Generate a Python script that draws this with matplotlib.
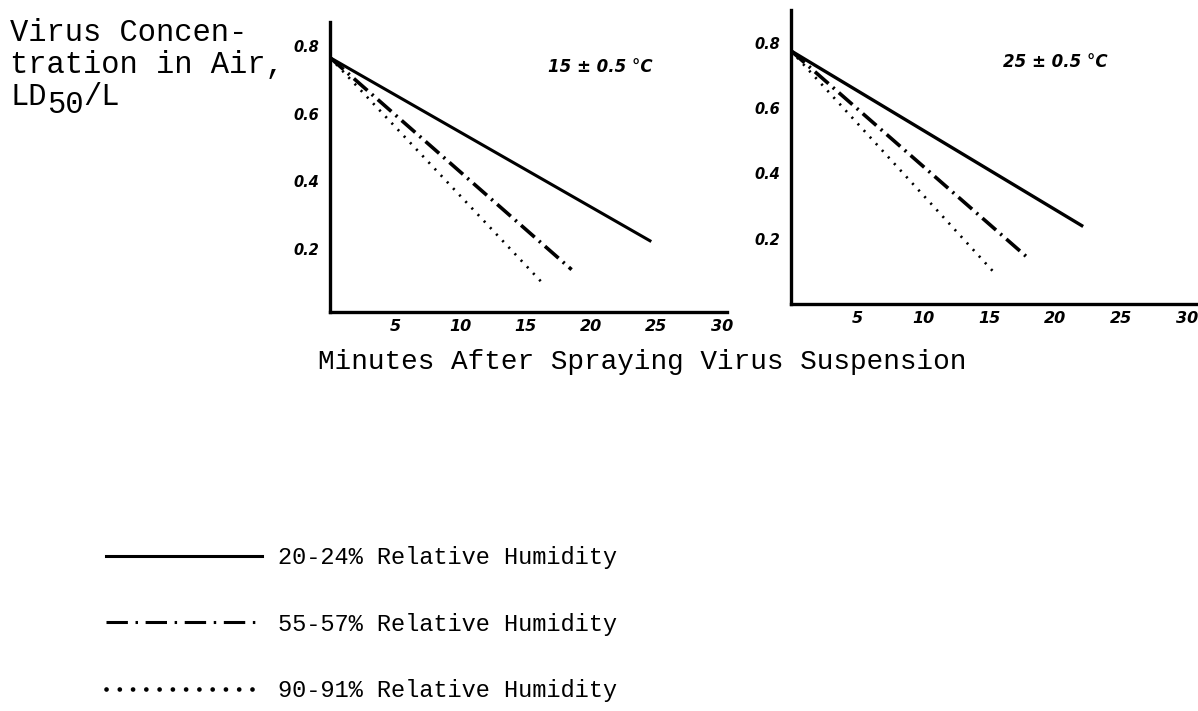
import matplotlib
matplotlib.use("Agg")
import matplotlib.pyplot as plt
from matplotlib.lines import Line2D

# (minutes, LD50/L)
left_solid_x = [0, 24.5]
left_solid_y = [0.765, 0.225]
left_dashdot_x = [0, 18.5]
left_dashdot_y = [0.765, 0.14]
left_dotted_x = [0, 16.4]
left_dotted_y = [0.765, 0.095]

right_solid_x = [0, 22.0]
right_solid_y = [0.775, 0.24]
right_dashdot_x = [0, 18.1]
right_dashdot_y = [0.775, 0.135]
right_dotted_x = [0, 15.4]
right_dotted_y = [0.775, 0.095]

xticks = [5, 10, 15, 20, 25, 30]
yticks = [0.2, 0.4, 0.6, 0.8]
temps = ["15 ± 0.5 °C", "25 ± 0.5 °C"]
labels = ["20-24% Relative Humidity", "55-57% Relative Humidity", "90-91% Relative Humidity"]

W, H = 1198, 711
fig = plt.figure(figsize=(W/100, H/100), dpi=100)

dashdot = (0, (5, 1.6, 0.6, 1.6))
dotted = (0, (0.8, 2.6))

def make_axes(rect, xmax, ymin, ymax):
    ax = fig.add_axes(rect)
    for side in ["top", "right"]:
        ax.spines[side].set_visible(False)
    for side in ["left", "bottom"]:
        ax.spines[side].set_linewidth(2.4)
    ax.set_xlim(0, xmax)
    ax.set_ylim(ymin, ymax)
    ax.set_xticks(xticks)
    ax.set_xticklabels([str(t) for t in xticks], fontsize=11.5, style="italic", weight="bold")
    ax.set_yticks(yticks)
    ax.set_yticklabels([str(t) for t in yticks], fontsize=10.5, style="italic", weight="bold")
    ax.tick_params(length=0)
    ax.tick_params(axis="x", pad=5)
    ax.tick_params(axis="y", pad=8)
    return ax

ax1 = make_axes([330/W, 1-312/H, 397/W, 290/H], 30.4, 0.015, 0.87)
ax1.plot(left_solid_x, left_solid_y, color="black", lw=2.2)
ax1.plot(left_dashdot_x, left_dashdot_y, color="black", lw=2.6, linestyle=dashdot)
ax1.plot(left_dotted_x, left_dotted_y, color="black", lw=1.9, linestyle=dotted)
ax1.text(0.68, 0.845, temps[0], transform=ax1.transAxes, ha="center", va="center",
         fontsize=12, style="italic", weight="bold")

ax2 = make_axes([791/W, 1-304/H, 407/W, 294/H], 30.8, 0.0, 0.9)
ax2.plot(right_solid_x, right_solid_y, color="black", lw=2.4)
ax2.plot(right_dashdot_x, right_dashdot_y, color="black", lw=2.6, linestyle=dashdot)
ax2.plot(right_dotted_x, right_dotted_y, color="black", lw=1.9, linestyle=dotted)
ax2.text(0.65, 0.823, temps[1], transform=ax2.transAxes, ha="center", va="center",
         fontsize=12, style="italic", weight="bold")

mono = "Liberation Mono"
fs = 22
cw = 0.6 * fs * 100 / 72   # monospace char width in px
fig.text(10/W, 1-33/H, "Virus Concen-", family=mono, fontsize=fs, va="center")
fig.text(10/W, 1-65/H, "tration in Air,", family=mono, fontsize=fs, va="center")
fig.text(10/W, 1-97/H, "LD", family=mono, fontsize=fs, va="center")
fig.text((10 + 2*cw)/W, 1-105/H, "50", family=mono, fontsize=fs, va="center")
fig.text((10 + 4*cw)/W, 1-97/H, "/L", family=mono, fontsize=fs, va="center")

fig.text(318/W, 1-362/H, "Minutes After Spraying Virus Suspension", family=mono,
         fontsize=20, va="center")

# legend keys drawn a bit heavier, as in the typed key
h1 = Line2D([], [], color="black", lw=2.2)
h2 = Line2D([], [], color="black", lw=2.2, linestyle=(0, (7, 2.5, 0.8, 2.5)))
h3 = Line2D([], [], color="black", lw=3.4, linestyle=(0, (0.01, 2.8)), dash_capstyle="round")
leg = fig.legend(handles=[h1, h2, h3], labels=labels, loc="upper left",
                 bbox_to_anchor=(106/W, 1-546/H),
                 frameon=False, borderpad=0, borderaxespad=0, handlelength=6.6,
                 handletextpad=0.7, labelspacing=1.85, prop={"family": mono, "size": 17})

fig.savefig("out.png", dpi=100)
